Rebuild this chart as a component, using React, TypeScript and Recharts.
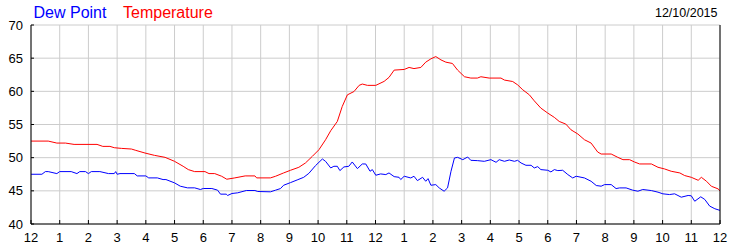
import React from "react";
import { LineChart, Line, XAxis, YAxis, CartesianGrid } from "recharts";

const tempHours = [0, 0.6, 0.9, 1.2, 1.5, 2.3, 2.5, 2.75, 2.9, 3.15, 3.5, 3.65, 3.97, 4.3, 4.67, 5.0, 5.3, 5.48, 5.7, 6.06, 6.2, 6.4, 6.64, 6.82, 7.1, 7.46, 7.8, 7.86, 8.34, 8.52, 8.8, 9.04, 9.33, 9.56, 9.8, 10.03, 10.26, 10.44, 10.67, 10.84, 11.02, 11.25, 11.43, 11.54, 11.72, 12.01, 12.3, 12.47, 12.65, 13.0, 13.17, 13.34, 13.58, 13.75, 13.93, 14.1, 14.28, 14.45, 14.68, 14.86, 15.1, 15.32, 15.55, 15.67, 15.96, 16.37, 16.49, 16.78, 16.95, 17.13, 17.36, 17.53, 17.76, 18.0, 18.23, 18.4, 18.63, 18.81, 19.05, 19.28, 19.51, 19.74, 19.86, 20.21, 20.44, 20.62, 20.85, 21.02, 21.2, 21.61, 21.84, 22.07, 22.3, 22.6, 22.77, 23.0, 23.24, 23.35, 23.53, 23.7, 23.93, 24.0];
const tempValues = [52.5, 52.5, 52.2, 52.2, 52.0, 52.0, 51.7, 51.7, 51.5, 51.4, 51.3, 51.1, 50.7, 50.35, 50.05, 49.45, 48.7, 48.2, 47.9, 47.9, 47.6, 47.6, 47.2, 46.75, 46.95, 47.25, 47.25, 46.95, 46.95, 47.2, 47.7, 48.1, 48.55, 49.2, 50.2, 51.2, 52.7, 54.06, 55.46, 57.7, 59.47, 59.97, 60.9, 61.1, 60.9, 60.9, 61.5, 62.1, 63.2, 63.3, 63.6, 63.43, 63.6, 64.4, 64.9, 65.24, 64.74, 64.4, 64.2, 63.2, 62.2, 62.0, 62.0, 62.2, 62.0, 62.0, 61.7, 61.48, 60.98, 60.23, 59.47, 58.57, 57.47, 56.72, 56.07, 55.46, 55.06, 54.2, 53.56, 52.7, 52.2, 50.85, 50.55, 50.55, 50.05, 49.7, 49.7, 49.35, 49.05, 49.05, 48.55, 48.3, 47.95, 47.7, 47.3, 47.04, 46.59, 47.04, 46.44, 45.69, 45.3, 45.0];

const dewHours = [0, 0.38, 0.5, 0.6, 0.9, 1.0, 1.4, 1.6, 1.7, 1.9, 2.0, 2.1, 2.4, 2.7, 2.9, 2.95, 3.0, 3.1, 3.6, 3.7, 4.0, 4.1, 4.4, 4.6, 4.7, 5.0, 5.2, 5.45, 5.7, 5.9, 6.0, 6.3, 6.5, 6.6, 6.8, 6.85, 7.0, 7.2, 7.5, 7.8, 7.9, 8.34, 8.52, 8.69, 8.8, 9.04, 9.27, 9.5, 9.68, 9.91, 10.15, 10.26, 10.44, 10.55, 10.67, 10.76, 10.9, 11.07, 11.19, 11.37, 11.54, 11.66, 11.81, 11.89, 12.01, 12.18, 12.36, 12.47, 12.65, 12.82, 12.88, 13.0, 13.23, 13.34, 13.46, 13.64, 13.75, 13.83, 13.93, 14.1, 14.22, 14.39, 14.51, 14.63, 14.75, 14.86, 15.04, 15.21, 15.32, 15.56, 15.79, 16.02, 16.2, 16.31, 16.49, 16.66, 16.84, 16.95, 17.07, 17.24, 17.42, 17.53, 17.65, 17.76, 18.0, 18.11, 18.23, 18.35, 18.52, 18.7, 18.87, 18.99, 19.28, 19.51, 19.69, 19.86, 19.98, 20.21, 20.38, 20.5, 20.73, 20.96, 21.14, 21.31, 21.61, 21.84, 22.01, 22.24, 22.42, 22.65, 22.89, 23.0, 23.12, 23.33, 23.47, 23.64, 23.82, 24.0];
const dewValues = [47.5, 47.5, 47.9, 47.9, 47.6, 47.9, 47.9, 47.6, 47.9, 47.9, 47.6, 47.9, 47.9, 47.6, 47.6, 47.9, 47.5, 47.6, 47.6, 47.25, 47.25, 46.95, 46.95, 46.7, 46.7, 46.2, 45.7, 45.45, 45.45, 45.2, 45.35, 45.35, 45.1, 44.5, 44.5, 44.3, 44.6, 44.7, 45.05, 45.05, 44.9, 44.85, 45.1, 45.34, 45.84, 46.24, 46.64, 47.04, 47.64, 48.8, 49.8, 49.45, 48.45, 48.7, 48.7, 48.05, 48.6, 48.7, 49.35, 48.35, 49.05, 49.05, 47.95, 48.2, 47.35, 47.55, 47.45, 47.7, 47.14, 47.04, 46.7, 47.2, 46.94, 47.2, 46.54, 47.04, 46.44, 46.84, 45.84, 45.94, 45.44, 44.94, 45.44, 47.95, 49.95, 50.05, 49.7, 50.1, 49.6, 49.55, 49.45, 49.7, 49.3, 49.7, 49.45, 49.65, 49.45, 49.6, 49.2, 48.85, 48.85, 48.45, 48.65, 48.2, 48.1, 47.85, 48.2, 48.05, 48.1, 47.45, 46.94, 47.2, 46.94, 46.44, 45.8, 45.7, 45.94, 45.94, 45.34, 45.44, 45.44, 45.1, 44.94, 45.2, 45.04, 44.8, 44.55, 44.44, 44.55, 44.04, 44.3, 44.25, 43.43, 44.1, 43.7, 42.7, 42.3, 42.05];

const hourTicks = [0, 1, 2, 3, 4, 5, 6, 7, 8, 9, 10, 11, 12, 13, 14, 15, 16, 17, 18, 19, 20, 21, 22, 23, 24];
const valueTicks = [40, 45, 50, 55, 60, 65, 70];
const titleDew = "Dew Point";
const titleTemp = "Temperature";
const dateLabel = "12/10/2015";

const tempData = tempHours.map((h, i) => ({ h, v: tempValues[i] }));
const dewData = dewHours.map((h, i) => ({ h, v: dewValues[i] }));

const fmtHour = (h: number) => {
  const m = h % 12;
  return String(m === 0 ? 12 : m);
};

const FONT = "Arial, 'Liberation Sans', sans-serif";
const tickStyle = { fontSize: 13, fill: "#000", fontFamily: FONT };

export default function App() {
  return (
    <div style={{ position: "absolute", left: 0, top: 0, width: 750, height: 250, background: "#fff" }}>
      <LineChart width={750} height={250} margin={{ top: 25, right: 0, bottom: 0, left: 0 }}>
        <CartesianGrid stroke="#cccccc" strokeWidth={1} />
        <XAxis
          dataKey="h"
          type="number"
          domain={[0, 24]}
          ticks={hourTicks}
          tickFormatter={fmtHour}
          allowDuplicatedCategory={false}
          height={26}
          tickSize={-4}
          tickMargin={13}
          axisLine={{ stroke: "#000" }}
          tickLine={{ stroke: "#000" }}
          tick={tickStyle}
          interval={0}
        />
        <XAxis
          xAxisId="top"
          orientation="top"
          dataKey="h"
          type="number"
          domain={[0, 24]}
          ticks={hourTicks}
          height={0}
          tickSize={-5}
          tick={false}
          axisLine={{ stroke: "#000" }}
          tickLine={{ stroke: "#000" }}
        />
        <YAxis
          type="number"
          domain={[40, 70]}
          ticks={valueTicks}
          width={31}
          tickSize={-3}
          tickMargin={11}
          axisLine={{ stroke: "#000" }}
          tickLine={{ stroke: "#000" }}
          tick={tickStyle}
          interval={0}
        />
        <YAxis
          yAxisId="right"
          orientation="right"
          type="number"
          domain={[40, 70]}
          ticks={valueTicks}
          width={30}
          tickSize={-4}
          tickMargin={11}
          axisLine={{ stroke: "#000" }}
          tickLine={{ stroke: "#000" }}
          tick={{ ...tickStyle, textAnchor: "start" }}
          interval={0}
        />
        <Line data={tempData} dataKey="v" type="linear" stroke="#ff0000" strokeWidth={1} dot={false} isAnimationActive={false} />
        <Line data={dewData} dataKey="v" type="linear" stroke="#0000ff" strokeWidth={1} dot={false} isAnimationActive={false} />
      </LineChart>
      <svg width={750} height={250} style={{ position: "absolute", left: 0, top: 0, pointerEvents: "none" }}>
        <text x={33.5} y={17.5} fontSize={16} fill="#0000ff" fontFamily={FONT}>{titleDew}</text>
        <text x={123} y={17.5} fontSize={16} fill="#ff0000" fontFamily={FONT}>{titleTemp}</text>
        <text x={717.5} y={16.8} fontSize={12.5} fill="#000" fontFamily={FONT} textAnchor="end">{dateLabel}</text>
      </svg>
    </div>
  );
}
